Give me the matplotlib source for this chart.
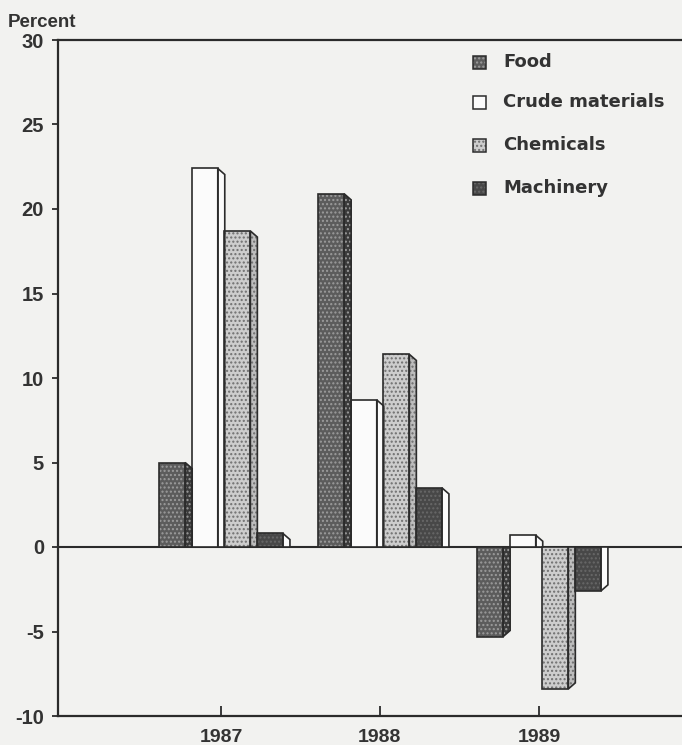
import numpy as np
import matplotlib
matplotlib.use("Agg")
import matplotlib.pyplot as plt
from matplotlib.patches import Rectangle, Polygon

years = ["1987", "1988", "1989"]
categories = ["Food", "Crude materials", "Chemicals", "Machinery"]
food = [5.0, 20.9, -5.3]
crude = [22.4, 8.7, 0.7]
chemicals = [18.7, 11.4, -8.4]
machinery = [0.8, 3.5, -2.6]
yticks = [-10, -5, 0, 5, 10, 15, 20, 25, 30]

series = [food, crude, chemicals, machinery]

# front face colour, dot colour, side face colour
styles = [
    ("#5c5c5c", "#9c9c9c", "#3a3a3a"),
    ("#fbfbfb", None, "#fbfbfb"),
    ("#cdcdcd", "#6f6f6f", "#bdbdbd"),
    ("#484848", "#686868", "#fbfbfb"),
]

ink = "#2b2b2b"
bg = "#f2f2f0"
plt.rcParams["font.family"] = ["Liberation Sans", "DejaVu Sans"]
plt.rcParams["font.weight"] = "bold"
plt.rcParams["hatch.linewidth"] = 1.0

fig = plt.figure(figsize=(6.82, 7.45), dpi=100, facecolor=bg)
ax = fig.add_axes([58 / 682, 1 - 716 / 745, 1 - 58 / 682, 676 / 745])
ax.set_facecolor(bg)

width = 0.165
step = 0.205
dx = 0.044
dy = 0.36


def face(patch, fc, dots):
    patch.set_facecolor(fc)
    if dots is None:
        patch.set_linewidth(0)
    else:
        patch.set_edgecolor(dots)
        patch.set_linewidth(0)
        patch.set_hatch("....")
    ax.add_patch(patch)


for j, vals in enumerate(series):
    fc, dots, side = styles[j]
    for i, v in enumerate(vals):
        x0 = i + (j - 1.5) * step - width / 2
        s = 1 if v >= 0 else -1
        # side face, drawn as a sheared strip to the right of the bar
        pts = [(x0 + width, 0), (x0 + width, v),
               (x0 + width + dx, v - s * dy), (x0 + width + dx, 0)]
        side_dots = dots if side != "#fbfbfb" else None
        face(Polygon(pts, closed=True, zorder=3), side, side_dots)
        ax.add_patch(Polygon(pts, closed=True, fill=False, edgecolor=ink,
                             linewidth=1.2, zorder=4))
        # front face
        face(Rectangle((x0, 0), width, v, zorder=3), fc, dots)
        ax.add_patch(Rectangle((x0, 0), width, v, fill=False, edgecolor=ink,
                               linewidth=1.2, zorder=4))

ax.axhline(0, color=ink, linewidth=1.5, zorder=2)

ax.set_xlim(-1.025, 2.9)
ax.set_ylim(-10, 30)
ax.set_yticks(yticks)
ax.set_yticklabels([str(t) for t in yticks])
ax.set_xticks(range(len(years)))
ax.set_xticklabels(years)

for side_name in ["left", "bottom", "top"]:
    ax.spines[side_name].set_color(ink)
    ax.spines[side_name].set_linewidth(1.6)
ax.spines["right"].set_visible(False)

ax.tick_params(axis="y", direction="out", length=4, width=1.3, color=ink,
               labelsize=14.5, labelcolor="#333333", pad=6)
ax.tick_params(axis="x", direction="in", length=7, width=1.3, color=ink,
               labelsize=14, labelcolor="#333333", pad=9)

fig.text(8 / 682, 1 - 27 / 745, "Percent", fontsize=13.5,
         color="#333333", fontweight="bold", va="baseline", ha="left")

# legend
leg_y = [62, 102, 145, 188]
for j, name in enumerate(categories):
    fc, dots, side = styles[j]
    yc = leg_y[j]
    box = (473 / 682, 1 - (yc + 7) / 745)
    sq = Rectangle(box, 13 / 682, 13 / 745,
                   transform=fig.transFigure, facecolor=fc,
                   edgecolor=dots if dots else ink, linewidth=0,
                   hatch="...." if dots else None)
    fig.patches.append(sq)
    fig.patches.append(Rectangle(box, 13 / 682, 13 / 745,
                                 transform=fig.transFigure,
                                 fill=False, edgecolor=ink, linewidth=1.1))
    fig.text(503 / 682, 1 - yc / 745, name, fontsize=13, color="#333333",
             fontweight="bold", va="center", ha="left",
             family=["DejaVu Sans"])

fig.savefig("out.png", dpi=100, facecolor=bg)
